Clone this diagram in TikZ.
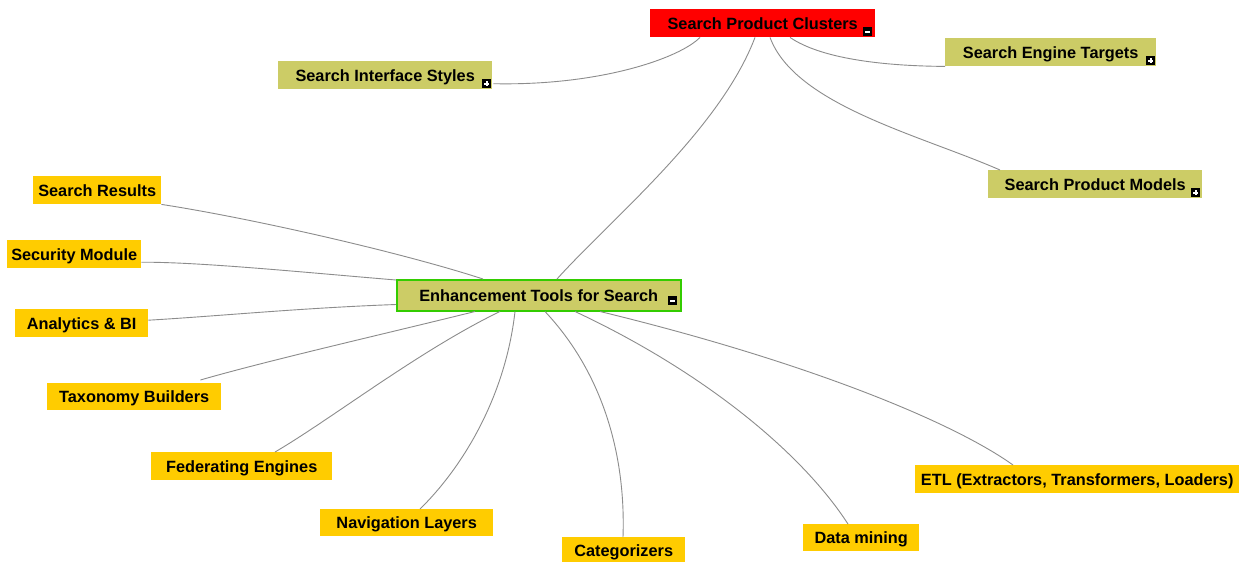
\documentclass[tikz,border=0pt]{standalone}
\usepackage{fontspec}
\setmainfont{Liberation Sans}
\usetikzlibrary{calc}
\definecolor{olivebox}{RGB}{204,204,102}
\definecolor{goldbox}{RGB}{255,204,0}
\definecolor{redbox}{RGB}{255,0,0}
\definecolor{greenedge}{RGB}{51,204,0}
\definecolor{linkgrey}{RGB}{140,140,140}
\begin{document}
\begin{tikzpicture}[x=1pt,y=-1pt,
  topic/.style={rectangle,inner sep=0pt,anchor=north west,text depth=0pt,font=\bfseries\fontsize{16.3}{18}\selectfont,text=black},
  olive/.style={topic,fill=olivebox},
  gold/.style={topic,fill=goldbox},
  toggle/.style={rectangle,fill=black,inner sep=0pt,minimum size=9pt,anchor=north west},
  expand/.style={toggle,path picture={
      \draw[white,line width=1.6pt] ($(path picture bounding box.west)+(2,0)$) -- ($(path picture bounding box.east)+(-2,0)$);
      \draw[white,line width=1.6pt] ($(path picture bounding box.north)+(0,2)$) -- ($(path picture bounding box.south)+(0,-2)$);}},
  collapse/.style={toggle,path picture={
      \draw[white,line width=1.6pt] ($(path picture bounding box.west)+(2,0)$) -- ($(path picture bounding box.east)+(-2,0)$);}},
  link/.style={draw=linkgrey,line width=0.9pt}]
\useasboundingbox (0,0) rectangle (1248,562);
\fill[white] (0,0) rectangle (1248,562);

% central and upper topics
\node[topic,fill=redbox,minimum width=225pt,minimum height=28pt] (spc) at (650,9) {Search Product Clusters\hspace{2pt}};
\node[collapse] (spct) at (863,27) {};
\node[olive,minimum width=214pt,minimum height=28pt] (sis) at (278,61) {Search Interface Styles\hspace{3pt}};
\node[expand] (sist) at (482,79) {};
\node[olive,minimum width=211pt,minimum height=28pt] (set) at (945,38) {Search Engine Targets\hspace{1pt}};
\node[expand] (sett) at (1146,56) {};
\node[olive,minimum width=214pt,minimum height=28pt] (spm) at (988,170) {Search Product Models\hspace{3pt}};
\node[expand] (spmt) at (1191,188) {};
\node[olive,draw=greenedge,line width=1.5pt,minimum width=284pt,minimum height=31pt] (ets) at (396,279) {Enhancement Tools for Search\hspace{4pt}};
\node[collapse] (etst) at (668,296) {};

% leaf topics
\node[gold,minimum width=128pt,minimum height=28pt] (sr) at (33,176) {Search Results};
\node[gold,minimum width=134pt,minimum height=28pt] (sm) at (7,240) {Security Module};
\node[gold,minimum width=133pt,minimum height=28pt] (ab) at (15,309) {Analytics \& BI};
\node[gold,minimum width=174pt,minimum height=27pt] (tb) at (47,383) {Taxonomy Builders};
\node[gold,minimum width=181pt,minimum height=28pt] (fe) at (151,452) {Federating Engines};
\node[gold,minimum width=173pt,minimum height=27pt] (nl) at (320,509) {Navigation Layers};
\node[gold,minimum width=123pt,minimum height=27pt] (cat) at (562,537) {Categorizers};
\node[gold,minimum width=116pt,minimum height=27pt] (dm) at (803,524) {Data mining};
\node[gold,minimum width=324pt,minimum height=28pt] (etl) at (915,465) {ETL (Extractors, Transformers, Loaders)};

% links from the top topic
\draw[link] ($(spc.south west)+(50,0)$) .. controls (680,58) and (600,86) .. ($(sist.east)+(2,0)$);
\draw[link] ($(spc.south west)+(140,0)$) .. controls (820,58) and (880,66) .. (set.south west);
\draw[link] ($(spc.south west)+(120,0)$) .. controls (795,105) and (920,135) .. ($(spm.north west)+(12,0)$);
\draw[link] ($(spc.south west)+(105,0)$) .. controls (720,130) and (610,220) .. ($(ets.north west)+(161,0)$);

% links from the enhancement topic
\draw[link] ($(ets.north west)+(87,0)$) .. controls (400,252) and (250,218) .. (sr.south east);
\draw[link] ($(ets.north west)+(0,1)$) .. controls (300,272) and (200,262) .. ($(sm.east)+(0,8)$);
\draw[link] ($(ets.south west)+(0,-7)$) .. controls (300,308) and (220,316) .. ($(ab.east)+(0,-3)$);
\draw[link] ($(ets.south west)+(79,0)$) .. controls (380,335) and (270,360) .. ($(tb.north east)+(-21,-3)$);
\draw[link] ($(ets.south west)+(104,0)$) .. controls (420,350) and (330,420) .. ($(fe.north west)+(124,0)$);
\draw[link] ($(ets.south west)+(119,0)$) .. controls (505,400) and (460,470) .. ($(nl.north west)+(100,0)$);
\draw[link] ($(ets.south west)+(149,0)$) .. controls (600,370) and (626,450) .. ($(cat.north west)+(61,0)$);
\draw[link] ($(ets.south west)+(179,0)$) .. controls (700,370) and (800,450) .. ($(dm.north west)+(45,0)$);
\draw[link] ($(ets.south west)+(204,0)$) .. controls (800,360) and (950,420) .. ($(etl.north west)+(98,0)$);
\end{tikzpicture}
\end{document}
